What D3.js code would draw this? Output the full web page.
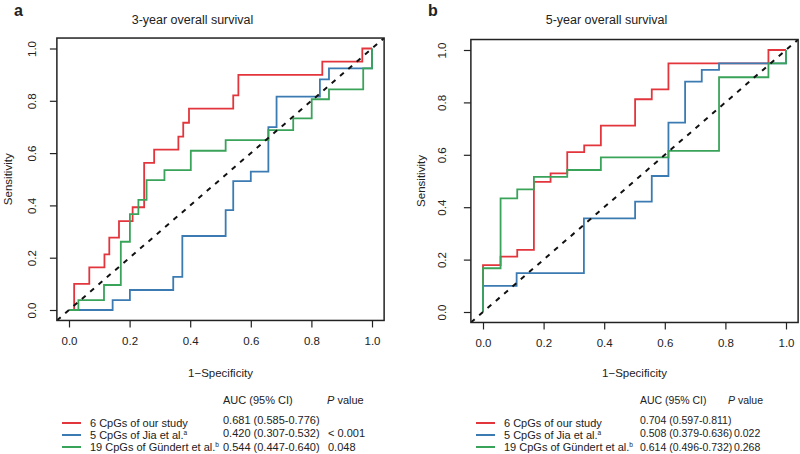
<!DOCTYPE html>
<html><head><meta charset="utf-8">
<script src="https://cdn.jsdelivr.net/npm/d3@7"></script>
<style>
body{margin:0;background:#fff;}
text{font-family:"Liberation Sans",Arial,sans-serif;fill:#222;}
</style></head>
<body><svg id="c" width="800" height="454"></svg>
<script>
// ---------- data ----------
const ticks = [0, 0.2, 0.4, 0.6, 0.8, 1.0];
const tickLabels = ["0.0", "0.2", "0.4", "0.6", "0.8", "1.0"];
const seriesNames = ["6 CpGs of our study", "5 CpGs of Jia et al.", "19 CpGs of Gündert et al."];
const seriesSup = ["", "a", "b"];
const colors = ["#e2363c", "#3b7bb2", "#3aa35a"];

// 3-year (panel a) ROC step points: 1-specificity / sensitivity
const a_red_fpr   = [0, 0.017, 0.067, 0.117, 0.133, 0.165, 0.21, 0.248, 0.281, 0.361, 0.377, 0.396, 0.542, 0.559, 0.836, 0.968, 1.0];
const a_red_tpr   = [0, 0.10, 0.163, 0.213, 0.277, 0.34, 0.393, 0.563, 0.613, 0.663, 0.716, 0.77, 0.821, 0.899, 0.95, 1.0, 1.0];
const a_blue_fpr  = [0, 0.144, 0.201, 0.344, 0.374, 0.517, 0.542, 0.600, 0.658, 0.685, 0.828, 0.858, 1.0];
const a_blue_tpr  = [0, 0.038, 0.0765, 0.127, 0.283, 0.382, 0.493, 0.529, 0.699, 0.816, 0.882, 0.924, 1.0];
const a_green_fpr = [0, 0.031, 0.1155, 0.171, 0.201, 0.229, 0.256, 0.315, 0.402, 0.517, 0.658, 0.740, 0.801, 0.858, 0.971, 1.0];
const a_green_tpr = [0, 0.038, 0.0956, 0.261, 0.367, 0.421, 0.497, 0.535, 0.609, 0.650, 0.688, 0.733, 0.806, 0.844, 0.924, 1.0];

// 5-year (panel b)
const b_red_fpr   = [0, 0, 0.058, 0.113, 0.168, 0.223, 0.278, 0.334, 0.389, 0.502, 0.557, 0.612, 0.942, 1.0];
const b_red_tpr   = [0, 0.179, 0.211, 0.237, 0.497, 0.529, 0.61, 0.636, 0.711, 0.812, 0.850, 0.949, 1.0, 1.0];
const b_blue_fpr  = [0, 0, 0.111, 0.333, 0.502, 0.557, 0.612, 0.667, 0.722, 0.779, 1.0];
const b_blue_tpr  = [0, 0.1, 0.148, 0.357, 0.421, 0.519, 0.7225, 0.879, 0.924, 0.949, 1.0];
const b_green_fpr = [0, 0, 0.058, 0.113, 0.168, 0.278, 0.389, 0.612, 0.779, 0.942, 1.0];
const b_green_tpr = [0, 0.167, 0.434, 0.468, 0.516, 0.542, 0.590, 0.615, 0.896, 0.949, 1.0];

const a_auc = ["0.681 (0.585-0.776)", "0.420 (0.307-0.532)", "0.544 (0.447-0.640)"];
const a_p   = ["", "< 0.001", "0.048"];
const b_auc = ["0.704 (0.597-0.811)", "0.508 (0.379-0.636)", "0.614 (0.496-0.732)"];
const b_p   = ["", "0.022", "0.268"];

// ---------- drawing ----------
const svg = d3.select("#c");

function panel(cfg) {
  const g = svg.append("g");
  const x = d3.scaleLinear().domain([0, 1]).range([cfg.x0, cfg.x1]);
  const y = d3.scaleLinear().domain([0, 1]).range([cfg.y0, cfg.y1]);
  const L = x(-0.04), R = x(1.04), T = y(1.04), B = y(-0.04);
  const clipId = "clip" + cfg.letter;
  g.append("clipPath").attr("id", clipId).append("rect")
    .attr("x", L).attr("y", T).attr("width", R - L).attr("height", B - T);

  // axes
  const xa = g.append("g").attr("transform", `translate(0,${B})`)
    .call(d3.axisBottom(x).tickValues(ticks).tickFormat((d, i) => tickLabels[i]).tickSize(7).tickPadding(9));
  xa.select(".domain").remove();
  xa.selectAll("line").attr("stroke", "#222").attr("stroke-width", 1.2);
  xa.selectAll("text").attr("font-size", 11.5).style("fill", "#222");

  const ya = g.append("g").attr("transform", `translate(${L},0)`)
    .call(d3.axisLeft(y).tickValues(ticks).tickFormat((d, i) => tickLabels[i]).tickSize(7).tickPadding(0));
  ya.select(".domain").remove();
  ya.selectAll("line").attr("stroke", "#222").attr("stroke-width", 1.2);
  ya.selectAll("text").attr("font-size", 11.5).style("fill", "#222")
    .attr("text-anchor", "middle").attr("dy", null).attr("x", null)
    .attr("transform", function(d) { return `translate(${-cfg.ylabOff},0) rotate(-90)`; });

  // curves
  const curves = cfg.curves;
  const line = d3.line().x(d => x(d[0])).y(d => y(d[1])).curve(d3.curveStepAfter);
  const cg = g.append("g").attr("clip-path", `url(#${clipId})`);
  curves.forEach((c, i) => {
    const pts = c[0].map((v, j) => [v, c[1][j]]);
    cg.append("path").attr("d", line(pts)).attr("fill", "none")
      .attr("stroke", colors[i]).attr("stroke-width", 1.8).attr("stroke-linejoin", "miter");
  });
  cg.append("line").attr("x1", x(-0.04)).attr("y1", y(-0.04)).attr("x2", x(1.04)).attr("y2", y(1.04))
    .attr("stroke", "#111").attr("stroke-width", 2).attr("stroke-dasharray", "5,6");

  // box
  g.append("rect").attr("x", L).attr("y", T).attr("width", R - L).attr("height", B - T)
    .attr("fill", "none").attr("stroke", "#222").attr("stroke-width", 1.5);

  // labels
  g.append("text").attr("x", cfg.letterX).attr("y", 16).attr("font-size", 16).attr("font-weight", "bold").text(cfg.letter);
  g.append("text").attr("x", (x(0) + x(1)) / 2 - 28).attr("y", 24).attr("text-anchor", "middle")
    .attr("font-size", 12.5).text(cfg.title);
  g.append("text").attr("transform", `translate(${cfg.sensX},${(y(0) + y(1)) / 2}) rotate(-90)`)
    .attr("text-anchor", "middle").attr("font-size", 11.5).text("Sensitivity");
  g.append("text").attr("x", (x(0) + x(1)) / 2).attr("y", 377).attr("text-anchor", "middle")
    .attr("font-size", 11.5).text("1\u2212Specificity");

  // legend
  const fs = cfg.legFs;
  g.append("text").attr("x", cfg.aucX).attr("y", 404).attr("font-size", fs).text("AUC (95% CI)");
  const pt = g.append("text").attr("x", cfg.pX).attr("y", 404).attr("font-size", fs);
  pt.append("tspan").attr("font-style", "italic").text("P");
  pt.append("tspan").text(" value");
  const lineY = [423, 435, 447];
  const labY = [427, 438.5, 451];
  const aucY = [424, 437, 451];
  seriesNames.forEach((n, i) => {
    g.append("line").attr("x1", cfg.legX0).attr("x2", cfg.legX0 + 19).attr("y1", lineY[i]).attr("y2", lineY[i])
      .attr("stroke", colors[i]).attr("stroke-width", 2);
    const t = g.append("text").attr("x", cfg.legX0 + 28).attr("y", labY[i]).attr("font-size", 11);
    t.append("tspan").text(n);
    if (seriesSup[i]) t.append("tspan").attr("font-size", 6.5).attr("dy", -4).text(seriesSup[i]);
    g.append("text").attr("x", cfg.aucX).attr("y", aucY[i]).attr("font-size", fs).text(cfg.auc[i]);
    if (cfg.p[i]) g.append("text").attr("x", cfg.pValX).attr("y", aucY[i]).attr("font-size", fs).text(cfg.p[i]);
  });
}

panel({letter: "a", letterX: 14, title: "3-year overall survival",
  x0: 69, x1: 372, y0: 310, y1: 48.5, ylabOff: 21, sensX: 12,
  curves: [[a_red_fpr, a_red_tpr], [a_blue_fpr, a_blue_tpr], [a_green_fpr, a_green_tpr]],
  legX0: 62, aucX: 223, pX: 327, pValX: 328, legFs: 11, auc: a_auc, p: a_p});

panel({letter: "b", letterX: 428, title: "5-year overall survival",
  x0: 483, x1: 786, y0: 312, y1: 50, ylabOff: 25, sensX: 425,
  curves: [[b_red_fpr, b_red_tpr], [b_blue_fpr, b_blue_tpr], [b_green_fpr, b_green_tpr]],
  legX0: 476, aucX: 640, pX: 728, pValX: 734, legFs: 10.5, auc: b_auc, p: b_p});
</script></body></html>
